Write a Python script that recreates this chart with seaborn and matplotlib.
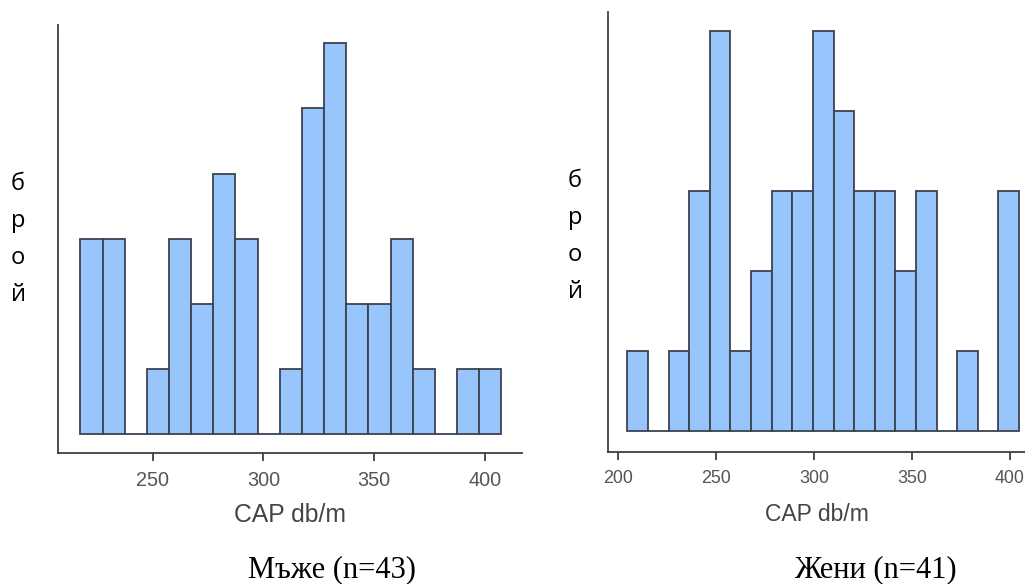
import numpy as np
import pandas as pd
import matplotlib
matplotlib.use("Agg")
import matplotlib.pyplot as plt
import seaborn as sns

# ---- data ----
men_title = "Мъже (n=43)"
women_title = "Жени (n=41)"
x_label = "CAP db/m"
y_label = "брой"

men_bin_start = 217.4
men_bin_width = 10.0
men_counts = [3, 3, 0, 1, 3, 2, 4, 3, 0, 1, 5, 6, 2, 2, 3, 1, 0, 1, 1]
men_ticks = [250, 300, 350, 400]

women_bin_start = 204.8
women_bin_width = 10.52
women_counts = [1, 0, 1, 3, 5, 1, 2, 3, 3, 5, 4, 3, 3, 2, 3, 0, 1, 0, 3]
women_ticks = [200, 250, 300, 350, 400]

sns.set_theme(style="white")
plt.rcParams["font.family"] = ["Liberation Sans", "DejaVu Sans"]

W, H = 1025, 584
fig = plt.figure(figsize=(W / 100, H / 100), dpi=100)

FILL = "#99c5fd"
EDGE = "#3b4250"
SPINE = "#3a3f48"
TICKC = "#555555"


def px_axes(x0, y0, x1, y1):
    return fig.add_axes([x0 / W, 1 - y1 / H, (x1 - x0) / W, (y1 - y0) / H])


def draw(ax, start, width, counts, ticks, xlim, ylim, tick_fs, lab_fs, ylab_xy, xlab_y):
    n = len(counts)
    edges = start + width * np.arange(n + 1)
    centers = (edges[:-1] + edges[1:]) / 2
    df = pd.DataFrame({"cap": centers, "count": counts})
    sns.histplot(data=df, x="cap", weights="count", bins=[float(e) for e in edges], ax=ax,
                 color=FILL, edgecolor=EDGE, linewidth=1.3, alpha=1)
    ax.set_xlim(*xlim)
    ax.set_ylim(*ylim)
    ax.set_xticks(ticks)
    ax.set_yticks([])
    for s in ["top", "right"]:
        ax.spines[s].set_visible(False)
    for s in ["left", "bottom"]:
        ax.spines[s].set_color(SPINE)
        ax.spines[s].set_linewidth(1.3)
    ax.tick_params(axis="x", bottom=True, length=6, width=1.3, color=SPINE,
                   labelsize=tick_fs, labelcolor=TICKC, pad=7)
    ax.set_xlabel(x_label, fontsize=lab_fs, color="#444444")
    ax.xaxis.set_label_coords(0.5, xlab_y)
    ax.xaxis.label.set_va("center")
    ax.set_ylabel("\n".join(y_label), rotation=0, fontsize=17,
                  family=["Open Sans", "DejaVu Sans"], color="black",
                  linespacing=1.72, ha="center", va="center")
    ax.yaxis.set_label_coords(*ylab_xy)
    ax.set_facecolor("white")


axL = px_axes(58, 25, 522, 453)
draw(axL, men_bin_start, men_bin_width, men_counts, men_ticks,
     xlim=(207.3, 416.7), ylim=(-0.29, 6.28), tick_fs=14.3, lab_fs=17.8,
     ylab_xy=(-0.086, 0.498), xlab_y=-0.145)

axR = px_axes(608, 12, 1025, 452)
draw(axR, women_bin_start, women_bin_width, women_counts, women_ticks,
     xlim=(194.9, 407.7), ylim=(-0.26, 5.24), tick_fs=12.9, lab_fs=16.5,
     ylab_xy=(-0.079, 0.489), xlab_y=-0.143)

fig.text(332 / W, 1 - 570 / H, men_title, ha="center", va="center",
         fontsize=22, family=["Liberation Serif", "DejaVu Serif"], color="black")
fig.text(875 / W, 1 - 570 / H, women_title, ha="center", va="center",
         fontsize=22, family=["Liberation Serif", "DejaVu Serif"], color="black")

fig.savefig("out.png", dpi=100, facecolor="white")
